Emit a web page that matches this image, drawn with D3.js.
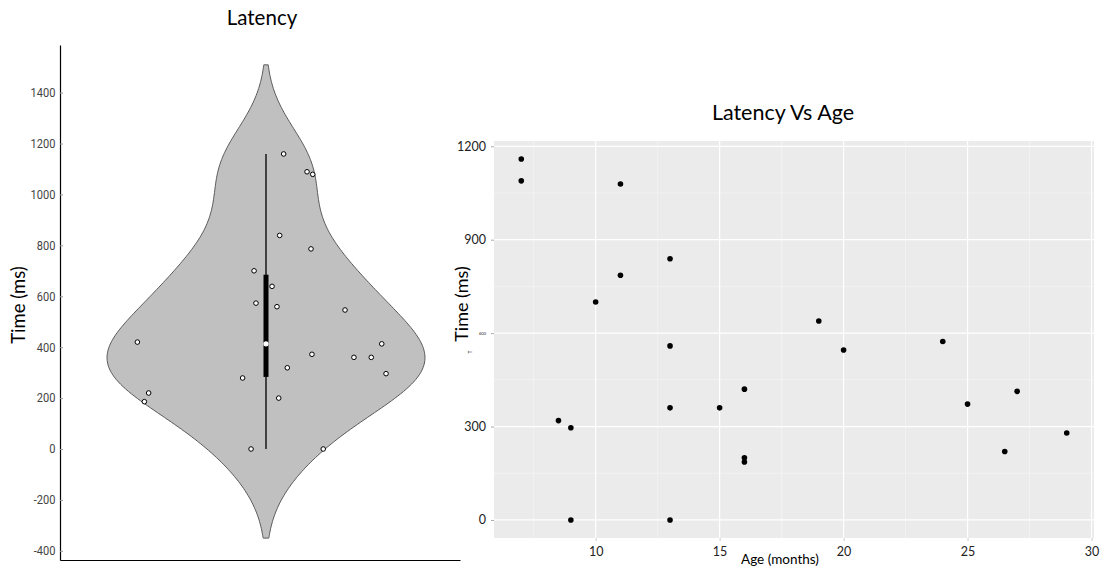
<!DOCTYPE html>
<html>
<head>
<meta charset="utf-8">
<script src="https://cdn.jsdelivr.net/npm/d3@7"></script>
<style>
  body { margin: 0; background: #fff; }
  svg { display: block; }
</style>
</head>
<body>
<svg id="chart" width="1100" height="568"></svg>
<script>
// Latency per participant (ms) and age at test (months), same order
const latency = [1159, 1089, 1079, 839, 786, 700, 559, 319, 296, 0, 0, 360, 360, 420, 200, 186, 639, 546, 573, 372, 413, 220, 279];
const ageMonths = [7, 7, 11, 13, 11, 10, 13, 8.5, 9, 9, 13, 13, 15, 16, 16, 16, 19, 20, 24, 25, 27, 26.5, 29];
// horizontal jitter of each point inside the violin, as a fraction of the half-width
const jitter = [0.111, 0.258, 0.294, 0.086, 0.283, -0.075, 0.069, 0.134, 0.755, -0.094, 0.360, 0.553, 0.662, -0.809, 0.080, -0.765, 0.038, 0.497, -0.063, 0.289, 0.728, -0.738, -0.147];

// axis ticks
const violinTicks = [-400, -200, 0, 200, 400, 600, 800, 1000, 1200, 1400];
const violinTickLabels = ["-400", "-200", "0", "200", "400", "600", "800", "1000", "1200", "1400"];
const scatterYMajor = [0, 300, 600, 900, 1200];
const scatterYMinor = [150, 450, 750, 1050];
const scatterYLabels = ["0", "300", "600", "900", "1200"];
const scatterXMajor = [10, 15, 20, 25, 30];
const scatterXMinor = [7.5, 12.5, 17.5, 22.5, 27.5];
const scatterXLabels = ["10", "15", "20", "25", "30"];

const svg = d3.select("#chart");
const titleFont = "Lato, 'Open Sans', sans-serif";

/* ---------------- Violin: Latency ---------------- */
const L = { left: 60, right: 460, top: 45, bottom: 560, cx: 266, half: 159 };
const yL = d3.scaleLinear().domain([-436, 1587]).range([L.bottom, L.top]);
const vx = d3.scaleLinear().domain([-1, 1]).range([L.cx - L.half, L.cx + L.half]);

// gaussian kernel density estimate
const bandwidth = 162;
const lo = d3.min(latency) - 350, hi = d3.max(latency) + 350;
const grid = d3.range(0, 201).map(i => lo + (hi - lo) * i / 200);
const density = grid.map(v => [v, d3.sum(latency, x => Math.exp(-0.5 * ((v - x) / bandwidth) ** 2))]);
const dmax = d3.max(density, d => d[1]);

const gL = svg.append("g");

gL.append("path")
  .datum(density)
  .attr("d", d3.area()
    .y(d => yL(d[0]))
    .x0(d => vx(-d[1] / dmax))
    .x1(d => vx(d[1] / dmax))
    .curve(d3.curveBasis))
  .attr("fill", "#c0c0c0")
  .attr("stroke", "#5a5a5a")
  .attr("stroke-width", 1);

// quartiles and whiskers
const sorted = latency.slice().sort((a, b) => a - b);
function quart(p) {
  const n = sorted.length;
  let pos = n * p + 0.5;
  pos = Math.min(Math.max(pos, 1), n);
  const i = Math.floor(pos), f = pos - i;
  return i >= n ? sorted[n - 1] : sorted[i - 1] + f * (sorted[i] - sorted[i - 1]);
}
const q1 = quart(0.25), med = quart(0.5), q3 = quart(0.75);
const iqr = q3 - q1;
const wLo = d3.min(sorted.filter(v => v >= q1 - 1.5 * iqr));
const wHi = d3.max(sorted.filter(v => v <= q3 + 1.5 * iqr));

gL.append("line")
  .attr("x1", vx(0)).attr("x2", vx(0))
  .attr("y1", yL(wLo)).attr("y2", yL(wHi))
  .attr("stroke", "#222").attr("stroke-width", 1.6);

gL.append("rect")
  .attr("x", vx(0) - 2.5).attr("width", 5)
  .attr("y", yL(q3)).attr("height", yL(q1) - yL(q3))
  .attr("fill", "#000");

gL.append("circle")
  .attr("cx", vx(0)).attr("cy", yL(med)).attr("r", 2.6)
  .attr("fill", "#fff");

gL.selectAll("circle.pt")
  .data(latency)
  .join("circle")
  .attr("class", "pt")
  .attr("cx", (d, i) => vx(jitter[i]))
  .attr("cy", d => yL(d))
  .attr("r", 2.3)
  .attr("fill", "#fff")
  .attr("stroke", "#000")
  .attr("stroke-width", 1);

// axes
const axL = gL.append("g")
  .attr("transform", `translate(${L.left},0)`)
  .call(d3.axisLeft(yL).tickValues(violinTicks).tickFormat((d, i) => violinTickLabels[i])
    .tickSizeInner(-3).tickSizeOuter(0).tickPadding(5));
axL.select(".domain").attr("stroke", "#000").attr("stroke-width", 1.2);
axL.selectAll(".tick line").attr("stroke", "#999");
axL.selectAll(".tick text")
  .attr("fill", "#444")
  .style("font-family", "'Liberation Sans Narrow', 'Roboto', sans-serif")
  .style("font-size", "12px")
  .attr("transform", "scale(0.92,1)");

const axLB = gL.append("g")
  .attr("transform", `translate(0,${L.bottom})`)
  .call(d3.axisBottom(d3.scaleLinear().range([L.left, L.right])).tickValues([]).tickSizeOuter(0));
axLB.select(".domain").attr("stroke", "#000").attr("stroke-width", 1.2);

gL.append("text")
  .attr("x", 262).attr("y", 25)
  .attr("text-anchor", "middle")
  .style("font-family", titleFont).style("font-size", "20.5px").attr("fill", "#000")
  .text("Latency");

gL.append("text")
  .attr("transform", "translate(25,305) rotate(-90)")
  .attr("text-anchor", "middle")
  .style("font-family", titleFont).style("font-size", "18.5px").attr("fill", "#000")
  .text("Time (ms)");

/* ---------------- Scatter: Latency Vs Age ---------------- */
const R = { left: 494, right: 1094, top: 141, bottom: 538 };
function expand(ext) { const s = ext[1] - ext[0]; return [ext[0] - 0.05 * s, ext[1] + 0.05 * s]; }
const xR = d3.scaleLinear().domain(expand(d3.extent(ageMonths))).range([R.left, R.right]);
const yR = d3.scaleLinear().domain(expand(d3.extent(latency))).range([R.bottom, R.top]);

const gR = svg.append("g");
gR.append("rect")
  .attr("x", R.left).attr("y", R.top)
  .attr("width", R.right - R.left).attr("height", R.bottom - R.top)
  .attr("fill", "#ebebeb");

// minor grid
gR.selectAll("line.ymin").data(scatterYMinor).join("line")
  .attr("x1", R.left).attr("x2", R.right)
  .attr("y1", d => yR(d)).attr("y2", d => yR(d))
  .attr("stroke", "#f7f7f7").attr("stroke-width", 0.6);
gR.selectAll("line.xmin").data(scatterXMinor).join("line")
  .attr("y1", R.top).attr("y2", R.bottom)
  .attr("x1", d => xR(d)).attr("x2", d => xR(d))
  .attr("stroke", "#f7f7f7").attr("stroke-width", 0.6);
// major grid
gR.selectAll("line.ymaj").data(scatterYMajor).join("line")
  .attr("x1", R.left).attr("x2", R.right)
  .attr("y1", d => yR(d)).attr("y2", d => yR(d))
  .attr("stroke", "#fff").attr("stroke-width", 1.2);
gR.selectAll("line.xmaj").data(scatterXMajor).join("line")
  .attr("y1", R.top).attr("y2", R.bottom)
  .attr("x1", d => xR(d)).attr("x2", d => xR(d))
  .attr("stroke", "#fff").attr("stroke-width", 1.2);

// points
gR.selectAll("circle.dot")
  .data(latency)
  .join("circle")
  .attr("class", "dot")
  .attr("cx", (d, i) => xR(ageMonths[i]))
  .attr("cy", d => yR(d))
  .attr("r", 2.8)
  .attr("fill", "#000");

// y axis
const axR = gR.append("g")
  .attr("transform", `translate(${R.left},0)`)
  .call(d3.axisLeft(yR).tickValues(scatterYMajor).tickFormat((d, i) => scatterYLabels[i])
    .tickSizeInner(3).tickSizeOuter(0).tickPadding(5));
axR.select(".domain").remove();
axR.selectAll(".tick line").attr("stroke", "#aaa");
axR.selectAll(".tick text")
  .attr("fill", "#222")
  .style("font-family", titleFont)
  .style("font-size", d => d === 600 ? "4px" : "12.5px");

// x axis
const axRB = gR.append("g")
  .attr("transform", `translate(0,${R.bottom})`)
  .call(d3.axisBottom(xR).tickValues(scatterXMajor).tickFormat((d, i) => scatterXLabels[i])
    .tickSizeInner(3).tickSizeOuter(0).tickPadding(6));
axRB.select(".domain").remove();
axRB.selectAll(".tick line").attr("stroke", "#ccc");
axRB.selectAll(".tick text")
  .attr("fill", "#222")
  .style("font-family", titleFont)
  .style("font-size", "12.5px");

gR.append("text")
  .attr("x", 780).attr("y", 564)
  .attr("text-anchor", "middle")
  .style("font-family", titleFont).style("font-size", "13.5px").attr("fill", "#000")
  .text("Age (months)");

gR.append("text")
  .attr("x", 783).attr("y", 120)
  .attr("text-anchor", "middle")
  .style("font-family", titleFont).style("font-size", "21.5px").attr("fill", "#000")
  .text("Latency Vs Age");

gR.append("text")
  .attr("transform", "translate(468,304) rotate(-90)")
  .attr("text-anchor", "middle")
  .style("font-family", titleFont).style("font-size", "18px").attr("fill", "#000")
  .text("Time (ms)");

gR.append("text")
  .attr("transform", "translate(472,352) rotate(-90)")
  .attr("text-anchor", "middle")
  .style("font-family", titleFont).style("font-size", "5px").attr("fill", "#333")
  .text("T");
</script>
</body>
</html>
